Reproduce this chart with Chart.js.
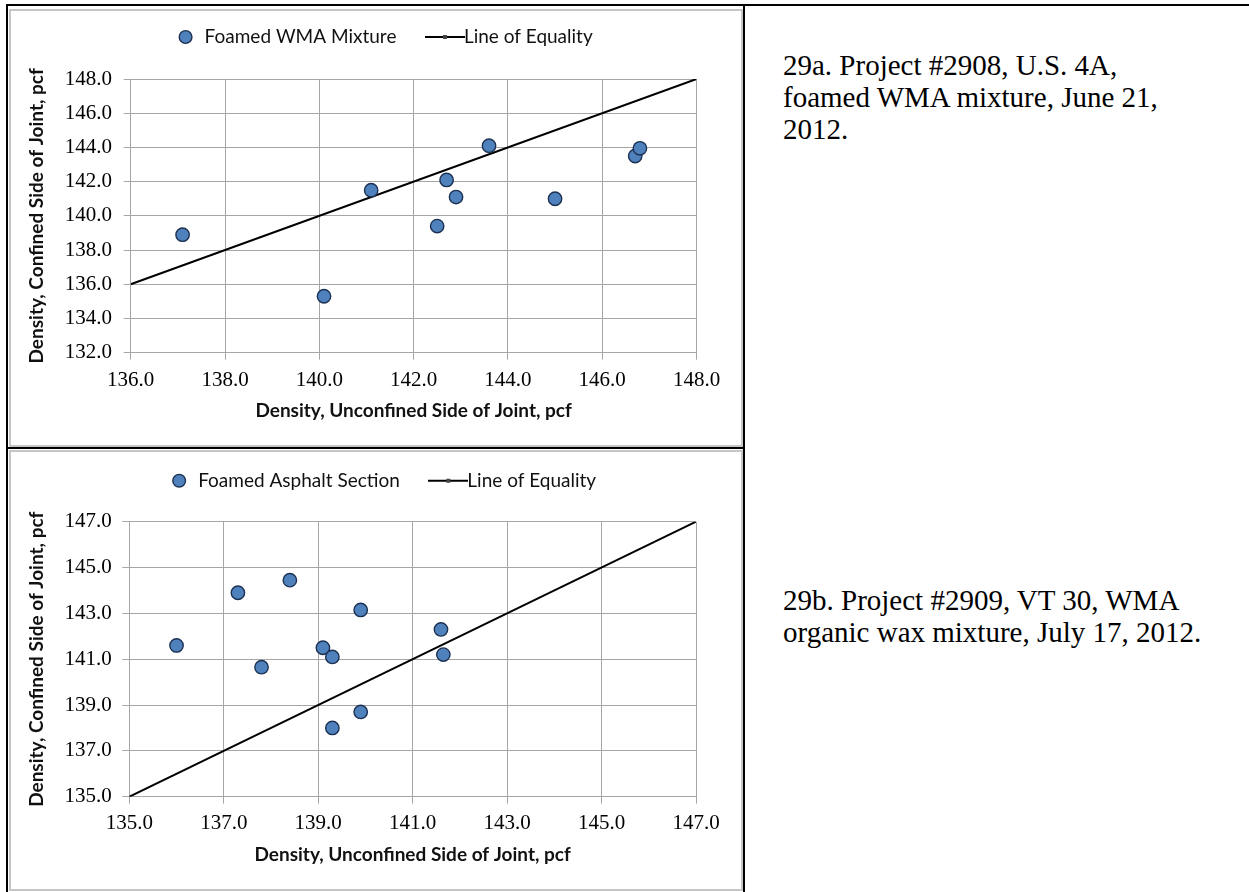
<html>
<head>
<meta charset="UTF-8">
<title>Density joint charts</title>
<script src="https://cdn.jsdelivr.net/npm/chart.js@4.4.0/dist/chart.umd.min.js"></script>
<style>
  body { margin: 0; background: #fff; width: 1249px; height: 892px; position: relative; overflow: hidden; }
  .rule { position: absolute; background: #000; }
  .frame { position: absolute; box-sizing: border-box; border: 2px solid #c6c6c6; }
  canvas { position: absolute; }
  .cap { position: absolute; left: 783px; font-family: "Liberation Serif", "Times New Roman", serif; font-size: 29px; line-height: 32px; color: #000; white-space: nowrap; }
</style>
</head>
<body>
  <div class="rule" style="left:6px;top:4px;width:1243px;height:2px"></div>
  <div class="rule" style="left:6px;top:4px;width:2px;height:888px"></div>
  <div class="rule" style="left:743px;top:4px;width:2px;height:888px"></div>
  <div class="rule" style="left:6px;top:447px;width:739px;height:2px"></div>

  <div class="frame" style="left:9px;top:9px;width:734px;height:438px"></div>
  <div class="frame" style="left:9px;top:450px;width:734px;height:441px"></div>
  <canvas id="chartA" width="730" height="434" style="left:11px;top:11px"></canvas>
  <canvas id="chartB" width="730" height="437" style="left:11px;top:452px"></canvas>

  <div class="cap" style="top:49px">29a. Project #2908, U.S. 4A,<br>foamed WMA mixture, June 21,<br>2012.</div>
  <div class="cap" style="top:584px">29b. Project #2909, VT 30, WMA<br>organic wax mixture, July 17, 2012.</div>

<script>
// 29a - foamed WMA mixture
var wmaUnconfined = [137.1, 140.1, 141.1, 142.5, 142.7, 142.9, 143.6, 145.0, 146.7, 146.8];
var wmaConfined   = [138.9, 135.3, 141.5, 139.4, 142.1, 141.1, 144.1, 141.0, 143.5, 143.95];
var equalityA = [136, 148];
var xTicksA = [136, 138, 140, 142, 144, 146, 148];
var yTicksA = [132, 134, 136, 138, 140, 142, 144, 146, 148];

// 29b - foamed asphalt section
var asphaltUnconfined = [136.0, 137.3, 137.8, 138.4, 139.1, 139.3, 139.3, 139.9, 139.9, 141.6, 141.65];
var asphaltConfined   = [141.6, 143.9, 140.65, 144.45, 141.5, 141.1, 138.0, 143.15, 138.7, 142.3, 141.2];
var equalityB = [135, 147];
var xTicksB = [135, 137, 139, 141, 143, 145, 147];
var yTicksB = [135, 137, 139, 141, 143, 145, 147];

var seriesA = "Foamed WMA Mixture";
var seriesB = "Foamed Asphalt Section";
var lineName = "Line of Equality";
var xTitle = "Density, Unconfined Side of Joint, pcf";
var yTitle = "Density, Confined Side of Joint, pcf";

var legendFont = 19;
var legendPad = 39;

// moves the legend block so it sits where the original one is
var legendNudge = {
  id: 'legendNudge',
  afterLayout: function(chart, args, opts) {
    var lg = chart.legend;
    if (!lg) return;
    var dx = opts.cx - (lg.left + lg.right) / 2;
    var dy = opts.cy - (lg.top + legendPad + legendFont / 2);
    lg.left += dx; lg.right += dx;
    lg.top += dy; lg.bottom += dy;
  }
};

function lineSwatch() {
  var c = document.createElement('canvas');
  c.width = 40; c.height = 8;
  var g = c.getContext('2d');
  g.fillStyle = '#000';
  g.fillRect(0, 3, 40, 2);
  g.fillStyle = '#444';
  g.fillRect(18, 2, 4, 4);
  return c;
}

function pairs(xs, ys) {
  var out = [];
  for (var i = 0; i < xs.length; i++) out.push({x: xs[i], y: ys[i]});
  return out;
}

function makeChart(id, cfg) {
  var grid = { color: '#a6a6a6', lineWidth: 1, tickLength: 7 };
  var tickFont = { family: '"Liberation Serif", serif', size: 21 };
  var titleFont = { family: 'Lato, sans-serif', size: 19, weight: 'bold' };
  return new Chart(document.getElementById(id), {
    type: 'scatter',
    data: {
      datasets: [{
        label: cfg.name,
        data: pairs(cfg.xs, cfg.ys),
        pointRadius: 6.7,
        pointBackgroundColor: '#4f81bd',
        pointBorderColor: '#1d3253',
        pointBorderWidth: 1.4,
        pointStyle: 'circle'
      }, {
        label: lineName,
        data: pairs(cfg.eq, cfg.eq),
        showLine: true,
        borderColor: '#000',
        borderWidth: 2,
        pointRadius: 0,
        pointStyle: lineSwatch()
      }]
    },
    options: {
      responsive: false,
      animation: false,
      devicePixelRatio: 1,
      layout: { padding: { top: cfg.padTop, right: cfg.padRight, left: 0, bottom: 0 } },
      plugins: {
        tooltip: { enabled: false },
        legend: {
          position: 'top',
          labels: {
            usePointStyle: true,
            boxHeight: 9,
            padding: legendPad,
            color: '#111',
            font: { family: 'Lato, sans-serif', size: legendFont }
          }
        },
        legendNudge: { cx: cfg.legendX, cy: cfg.legendY }
      },
      scales: {
        x: {
          type: 'linear',
          min: cfg.xTicks[0],
          max: cfg.xTicks[cfg.xTicks.length - 1],
          afterBuildTicks: function(s) { s.ticks = cfg.xTicks.map(function(v) { return {value: v}; }); },
          afterFit: function(s) { s.height = cfg.xHeight; },
          grid: grid,
          border: { color: '#a6a6a6' },
          ticks: { font: tickFont, color: '#000', padding: cfg.xTickPad, maxRotation: 0,
                   callback: function(v) { return v.toFixed(1); } },
          title: { display: true, text: xTitle, color: '#111', font: titleFont, padding: { top: 0, bottom: 22.6 } }
        },
        y: {
          type: 'linear',
          min: cfg.yTicks[0],
          max: cfg.yTicks[cfg.yTicks.length - 1],
          afterBuildTicks: function(s) { s.ticks = cfg.yTicks.map(function(v) { return {value: v}; }); },
          afterFit: function(s) { s.width = cfg.yWidth; },
          grid: grid,
          border: { color: '#a6a6a6' },
          ticks: { font: tickFont, color: '#000', padding: cfg.yTickPad,
                   callback: function(v) { return v.toFixed(1); } },
          title: { display: true, text: yTitle, color: '#111', font: titleFont, padding: { top: 14.6, bottom: 0 } }
        }
      }
    },
    plugins: [legendNudge]
  });
}

makeChart('chartA', {
  name: seriesA, xs: wmaUnconfined, ys: wmaConfined, eq: equalityA,
  xTicks: xTicksA, yTicks: yTicksA,
  padTop: 0, padRight: 44.5, xHeight: 92.3, yWidth: 119.7,
  xTickPad: 8, yTickPad: 11.7, legendX: 373.4, legendY: 26
});

makeChart('chartB', {
  name: seriesB, xs: asphaltUnconfined, ys: asphaltConfined, eq: equalityB,
  xTicks: xTicksB, yTicks: yTicksB,
  padTop: 1.7, padRight: 45, xHeight: 92.3, yWidth: 118.3,
  xTickPad: 7, yTickPad: 10.6, legendX: 371.9, legendY: 28.7
});
</script>
</body>
</html>
